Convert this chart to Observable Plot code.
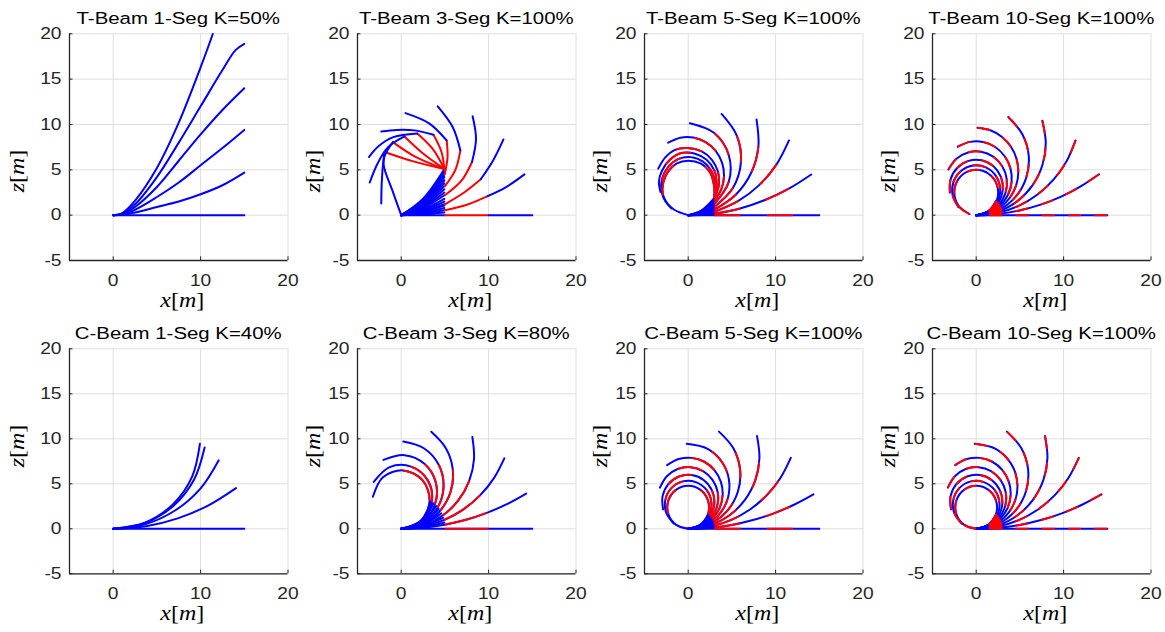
<!DOCTYPE html>
<html><head><meta charset="utf-8">
<script src="https://cdn.jsdelivr.net/npm/d3@7"></script>
<script src="https://cdn.jsdelivr.net/npm/@observablehq/plot@0.6"></script>
<style>
body{margin:0;background:#fff;}
#fig{position:relative;width:1165px;height:632px;overflow:hidden;background:#fff;}
#fig svg{position:absolute;}
</style></head><body><div id="fig"></div>
<script>
// ---------- tick values & titles ----------
const xTicks = [0, 10, 20];
const yTicks = [-5, 0, 5, 10, 15, 20];
const titles = ["T-Beam 1-Seg K=50%", "T-Beam 3-Seg K=100%", "T-Beam 5-Seg K=100%", "T-Beam 10-Seg K=100%",
                "C-Beam 1-Seg K=40%", "C-Beam 3-Seg K=80%", "C-Beam 5-Seg K=100%", "C-Beam 10-Seg K=100%"];

// ---------- T-Beam 1 segment ----------
const tBeam1 = [
 [[0,0],[15,0]],
 [[0,0],[1,0.04],[2.5,0.3],[5,0.9],[7.5,1.5],[10,2.3],[12.5,3.3],[15,4.7]],
 [[0,0],[1,0.08],[2.5,0.6],[5,2.0],[7.5,3.6],[10,5.5],[12.5,7.4],[15,9.4]],
 [[0,0],[1,0.12],[2.5,0.9],[5,3.1],[7.5,6.0],[10,8.9],[12.5,11.6],[15,14.0]],
 [[0,0],[1,0.16],[2.5,1.2],[5,4.2],[7.5,8.0],[10,12.0],[12.5,16.0],[14,18.2],[15,18.9]],
 [[0,0],[1,0.2],[2.5,1.6],[5,5.2],[7.5,10.2],[10,16.3],[11.4,20],[11.9,21.5]]
];

// ---------- T-Beam 3 segments ----------
const tBeam3Fan = [
 [[0,0],[2.5,0],[5,0]],[[0,0],[2.47,0.1],[4.94,0.3]],[[0,0],[2.47,0.19],[4.94,0.55]],[[0,0],[2.47,0.28],[4.94,0.8]],
 [[0,0],[2.47,0.37],[4.94,1.05]],[[0,0],[2.47,0.42],[4.94,1.2]],[[0,0],[2.47,0.53],[4.94,1.5]],[[0,0],[2.47,0.63],[4.94,1.8]],
 [[0,0],[2.47,0.77],[4.94,2.2]],[[0,0],[2.47,0.88],[4.94,2.5]],[[0,0],[2.47,1.0],[4.94,2.85]],[[0,0],[2.47,1.12],[4.94,3.2]],
 [[0,0],[2.47,1.23],[4.94,3.5]],[[0,0],[2.47,1.35],[4.94,3.85]],[[0,0],[2.47,1.47],[4.94,4.2]],[[0,0],[2.47,1.58],[4.94,4.5]],
 [[0,0],[2.47,1.68],[4.94,4.8]],[[0,0],[2.47,1.79],[4.94,5.1]]
];
const tBeam3Red = [
 [[5,0],[10,0]],
 [[5,0.55],[7.5,1.15],[9.9,2.1]],
 [[5,1.2],[7.2,2.5],[9.1,3.96]],
 [[5,2.2],[6.9,3.8],[8.1,5.86]],
 [[5,3.2],[6.2,5.0],[6.77,7.14]],
 [[4.98,4.5],[5.3,6.4],[5.2,8.24]],
 [[4.94,5.1],[4.6,7.0],[3.69,8.86]],
 [[4.94,5.1],[3.6,7.3],[1.84,9.0]],
 [[4.94,5.1],[2.5,6.8],[0.38,8.68]],
 [[4.94,5.1],[1.7,6.4],[-0.95,8.06]],
 [[4.94,5.1],[1.5,5.9],[-1.9,6.97]]
];
const tBeam3Blue = [
 [[10,0],[15,0]],
 [[9.9,2.1],[12,3.1],[14.1,4.5]],
 [[9.1,3.96],[10.5,6.0],[11.7,8.35]],
 [[8.1,5.86],[8.56,8.4],[8.17,10.9]],
 [[6.77,7.14],[5.9,9.7],[4.18,12.0]],
 [[5.2,8.24],[3.23,10.1],[0.49,11.25]],
 [[3.69,8.86],[1.5,9.35],[-0.5,9.4],[-2.28,9.23]],
 [[1.84,9.0],[-0.9,8.6],[-2.6,7.6],[-3.69,6.41]],
 [[0.38,8.68],[-1.5,7.5],[-2.7,5.7],[-3.6,3.6]],
 [[-0.95,8.06],[-1.9,6.5],[-2.2,4.0],[-2.28,1.28]],
 [[-1.9,6.97],[-2.0,5.5],[-1.0,2.7],[0,0]]
];

// ---------- T-Beam 5 segments ----------
const tBeam5Fan = [
 [[0,0],[1.5,0],[3,0]],[[0,0],[1.5,0.02],[3,0.08]],[[0,0],[1.5,0.04],[3,0.15]],[[0,0],[1.5,0.07],[3,0.25]],
 [[0,0],[1.5,0.1],[3,0.37]],[[0,0],[1.5,0.13],[3,0.48]],[[0,0],[1.5,0.16],[3,0.6]],[[0,0],[1.5,0.2],[3,0.75]],
 [[0,0],[1.5,0.24],[3,0.9]],[[0,0],[1.5,0.28],[3,1.05]],[[0,0],[1.5,0.34],[3,1.25]],[[0,0],[1.5,0.38],[3,1.4]],
 [[0,0],[1.5,0.43],[3,1.6]],[[0,0],[1.5,0.47],[3,1.75]],[[0,0],[1.5,0.51],[3,1.9]]
];
const tBeam5Body = [
 [[3,0],[15,0]],
 [[3,0.15],[5.94,0.74],[8.79,1.67],[11.52,2.92],[14.08,4.48]],
 [[3,0.37],[5.74,1.57],[8.15,3.34],[10.11,5.6],[11.53,8.24]],
 [[3,0.6],[5.47,2.28],[7.22,4.7],[8.03,7.56],[7.82,10.54]],
 [[3,0.9],[5.11,2.99],[6.03,5.82],[5.57,8.75],[3.82,11.16]],
 [[3,1.25],[4.65,3.7],[4.63,6.66],[2.95,9.08],[0.19,10.14]],
 [[3,1.6],[3.79,2.86],[4.1,4.32],[3.87,5.8],[3.14,7.1],[1.99,8.06],[0.59,8.56],[-0.9,8.54],[-2.29,7.99]],
 [[3,1.9],[3.51,3.3],[3.41,4.79],[2.71,6.11],[1.55,7.03],[-0.07,7.41],[-1.57,7.18],[-2.62,6.37],[-3.43,5.13]],
 [[3,1.9],[3.25,3.4],[3.0,4.9],[2.1,6.1],[0.7,6.8],[-0.8,6.85],[-2.1,6.1],[-3.0,4.9],[-3.35,3.7],[-3.17,2.56]],
 [[3,1.9],[3.1,3.4],[2.7,4.8],[1.7,5.9],[0.3,6.4],[-1.1,6.2],[-2.3,5.3],[-3.0,4.0],[-3.05,2.6],[-2.6,1.5],[-1.9,0.73]],
 [[3,1.9],[2.95,3.3],[2.5,4.7],[1.4,5.7],[0,6.0],[-1.3,5.7],[-2.3,4.8],[-2.85,3.6],[-2.9,2.3],[-2.4,1.3],[-1.6,0.6],[-0.8,0.25],[0,0]]
];

// ---------- T-Beam 10 segments ----------
const tBeam10 = [
 [[0,0],[15,0]],
 [[0,0],[2.5,0.13],[4.96,0.52],[7.38,1.16],[9.72,2.04],[11.95,3.17],[14.05,4.51]],
 [[0,0],[2.48,0.26],[4.86,1.03],[7.02,2.28],[8.87,3.94],[10.35,5.96],[11.37,8.24]],
 [[0,0],[2.46,0.39],[4.68,1.52],[6.44,3.28],[7.57,5.5],[7.96,7.96],[7.57,10.42]],
 [[0,0],[2.43,0.51],[4.45,1.96],[5.71,4.09],[6.01,6.56],[5.28,8.93],[3.67,10.82]],
 [[0,0],[1.48,0.23],[2.81,0.9],[3.87,1.95],[4.57,3.28],[4.82,4.75],[4.61,6.23],[3.96,7.57],[2.92,8.65],[1.61,9.36],[0.14,9.64]],
 [[0,0],[1.47,0.27],[2.74,1.06],[3.64,2.25],[4.05,3.68],[3.92,5.16],[3.26,6.5],[2.17,7.52],[0.77,8.07],[-0.71,8.08],[-2.11,7.55]],
 [[0,0],[1.46,0.31],[2.65,1.2],[3.37,2.51],[3.49,3.99],[2.98,5.39],[1.94,6.46],[0.56,7.0],[-0.93,6.91],[-2.25,6.23],[-3.18,5.03]],
 [[0,0],[1.44,0.36],[2.54,1.36],[3.04,2.75],[2.83,4.22],[1.95,5.42],[0.61,6.06],[-0.88,5.99],[-2.15,5.23],[-2.93,3.95],[-3.01,2.48]],
 [[0,0],[1.43,0.4],[2.44,1.48],[2.74,2.93],[2.25,4.33],[1.11,5.27],[-0.36,5.48],[-1.71,4.9],[-2.59,3.69],[-2.7,2.22],[-2.02,0.89]],
 [[0,0],[1.41,0.44],[2.34,1.59],[2.45,3.06],[1.71,4.34],[0.38,4.99],[-1.07,4.78],[-2.17,3.77],[-2.5,2.34],[-1.95,0.93],[-0.76,0.12]]
];

// ---------- C-Beam 1 segment ----------
const cBeam1 = [
 [[0,0],[15,0]],
 [[0,0],[3.75,0.29],[7.39,1.16],[10.85,2.58],[14.05,4.52]],
 [[0,0],[3.71,0.52],[7.12,2.06],[9.98,4.47],[12.06,7.6]],
 [[0,0],[3.68,0.66],[6.91,2.57],[9.26,5.48],[10.46,9.04]],
 [[0,0],[3.69,0.71],[6.85,2.74],[9.03,5.8],[9.92,9.44]]
];

// ---------- C-Beam 3 segments ----------
const cBeam3Fan = [
 [[0,0],[2.49,0.17],[4.94,0.69]],[[0,0],[2.47,0.31],[4.79,1.22]],[[0,0],[2.45,0.44],[4.59,1.71]],
 [[0,0],[2.41,0.58],[4.29,2.19]],[[0,0],[2.37,0.68],[4.01,2.53]],[[0,0],[2.32,0.79],[3.68,2.84]],
 [[0,0],[2.28,0.88],[3.38,3.06]]
];
const cBeam3 = [
 [[0,0],[15,0]],
 [[0,0],[2.5,0.11],[4.97,0.45],[7.41,1.0],[9.79,1.77],[12.09,2.74],[14.3,3.92]],
 [[0,0],[2.48,0.24],[4.87,0.96],[7.08,2.13],[9.02,3.71],[10.61,5.63],[11.8,7.83]],
 [[0,0],[2.46,0.37],[4.71,1.45],[6.53,3.15],[7.77,5.3],[8.33,7.73],[8.14,10.21]],
 [[0,0],[2.43,0.52],[4.43,1.98],[5.66,4.14],[5.9,6.61],[5.11,8.96],[3.44,10.78]],
 [[0,0],[2.39,0.63],[4.16,2.35],[4.85,4.73],[4.28,7.14],[2.59,8.95],[0.24,9.69]],
 [[0,0],[2.35,0.74],[3.85,2.69],[3.96,5.15],[2.65,7.23],[0.38,8.18],[-2.03,7.66]],
 [[0,0],[2.3,0.84],[3.5,2.97],[3.04,5.38],[1.13,6.91],[-1.32,6.85],[-3.14,5.21]],
 [[0,0],[2.26,0.92],[3.25,3.15],[2.41,5.43],[0.21,6.49],[-2.09,5.74],[-3.24,3.56]]
];

// ---------- C-Beam 5 / 10 segments ----------
const cBeamFan = [
 [[0,0],[1.5,0.028],[3.0,0.11]],[[0,0],[1.5,0.056],[2.99,0.22]],[[0,0],[1.49,0.11],[2.96,0.45]],
 [[0,0],[1.49,0.16],[2.91,0.63]],[[0,0],[1.48,0.22],[2.82,0.87]],[[0,0],[1.47,0.26],[2.76,1.0]],
 [[0,0],[1.46,0.3],[2.68,1.15]],[[0,0],[1.45,0.35],[2.58,1.31]],[[0,0],[1.43,0.39],[2.48,1.44]],
 [[0,0],[1.42,0.43],[2.35,1.57]],[[0,0],[1.41,0.45],[2.3,1.62]]
];
const cBeamArcs = [
 [[0,0],[15,0]],
 [[0,0],[2.5,0.11],[4.97,0.43],[7.42,0.97],[9.8,1.72],[12.11,2.67],[14.33,3.82]],
 [[0,0],[2.48,0.25],[4.87,0.97],[7.07,2.15],[9.0,3.74],[10.57,5.68],[11.74,7.88]],
 [[0,0],[2.46,0.38],[4.69,1.48],[6.49,3.21],[7.68,5.4],[8.15,7.84],[7.87,10.32]],
 [[0,0],[2.43,0.52],[4.44,1.97],[5.68,4.12],[5.94,6.59],[5.17,8.95],[3.52,10.8]],
 [[0,0],[2.39,0.65],[4.12,2.41],[4.72,4.81],[4.03,7.17],[2.23,8.88],[-0.17,9.44]],
 [[0,0],[1.46,0.28],[2.72,1.09],[3.59,2.3],[3.94,3.75],[3.74,5.22],[3.0,6.52],[1.84,7.45],[0.41,7.88],[-1.08,7.75],[-2.41,7.08]],
 [[0,0],[1.45,0.32],[2.63,1.23],[3.32,2.55],[3.38,4.04],[2.8,5.41],[1.7,6.41],[0.28,6.85],[-1.2,6.64],[-2.44,5.84],[-3.24,4.57]],
 [[0,0],[1.44,0.37],[2.52,1.38],[2.99,2.79],[2.73,4.25],[1.8,5.4],[0.42,5.97],[-1.05,5.81],[-2.27,4.96],[-2.93,3.63],[-2.88,2.15]],
 [[0,0],[1.42,0.41],[2.41,1.52],[2.65,2.97],[2.08,4.34],[0.87,5.19],[-0.61,5.27],[-1.9,4.55],[-2.61,3.24],[-2.52,1.79],[-1.65,0.57]],
 [[0,0],[1.4,0.46],[2.27,1.65],[2.27,3.13],[1.41,4.32],[0.01,4.78],[-1.4,4.33],[-2.27,3.14],[-2.28,1.66],[-1.41,0.46],[-0.02,0]]
];

// ---------- drawing ----------
const BLUE = "#0000ff", RED = "#ff0000";
const K = 1.2;                       // horizontal width of the glyphs
const colLeft = [69.3, 356.7, 644, 932];
const zLabelOff = [51, 43, 43, 43];
const plotW = 218.5;
const rows = [
 {top: 0, plotTop: 33.3, plotH: 226.7, H: 316, zc: 171},
 {top: 316, plotTop: 32.3, plotH: 225, H: 316, zc: 130}
];

function rowsOf(curves) {
  return curves.flatMap((pts, i) => pts.map(([x, z]) => ({id: i, x, z})));
}
function lineMark(curves, stroke, extra = {}) {
  return Plot.line(rowsOf(curves), {x: "x", y: "z", z: "id", stroke, strokeWidth: 2,
    curve: "catmull-rom", clip: true, ...extra});
}
let ovCount = 0;
function twoColour(curves, nSeg, offset, lengths) {
  const label = "ov" + (ovCount++);
  lengths[label] = nSeg;
  return [lineMark(curves, BLUE),
          lineMark(curves, RED, {strokeDasharray: "1 1", strokeDashoffset: offset,
                                 strokeLinecap: "butt", ariaDescription: label})];
}

function panel(idx, build) {
  const row = Math.floor(idx / 4), col = idx % 4, r = rows[row];
  const lengths = {};
  const mL = 60, mR = 8;
  const W = mL + plotW + mR;
  const marks = [
    Plot.ruleX(xTicks, {stroke: "#dedede", strokeWidth: 1}),
    Plot.ruleY(yTicks, {stroke: "#dedede", strokeWidth: 1}),
    ...build(lengths),
    Plot.ruleX([-5], {stroke: "#262626", strokeWidth: 1.3}),
    Plot.ruleY([-5], {stroke: "#262626", strokeWidth: 1.3}),
    Plot.ruleX(xTicks, {y1: -5, y2: -4.6, stroke: "#262626"}),
    Plot.ruleY(yTicks, {x1: -5, x2: -4.6, stroke: "#262626"})
  ];
  const svg = Plot.plot({
    width: W, height: r.H,
    marginLeft: mL, marginRight: mR, marginTop: r.plotTop, marginBottom: r.H - r.plotTop - r.plotH,
    x: {domain: [-5, 20], ticks: xTicks, tickSize: 0, tickPadding: 14, label: null, tickFormat: d => String(d)},
    y: {domain: [-5, 20], ticks: yTicks, tickSize: 0, tickPadding: 8, label: null, tickFormat: d => String(d)},
    style: {fontFamily: "'Liberation Sans', Arial, sans-serif", fontSize: "16px", color: "#262626",
            background: "transparent", overflow: "visible"},
    marks
  });
  const s = d3.select(svg);
  for (const [label, n] of Object.entries(lengths)) {
    s.selectAll(`[aria-description="${label}"] path`).attr("pathLength", n);
  }
  // widen tick-label glyphs about their anchor
  s.selectAll("text").each(function () {
    const t = this.getAttribute("transform") || "";
    const x = parseFloat(this.getAttribute("x")) || 0;
    this.setAttribute("transform", `${t} translate(${x},0) scale(${K},1) translate(${-x},0)`);
  });
  const cx = mL + plotW / 2;
  s.append("text").attr("transform", `translate(${cx},${r.plotTop - 9}) scale(${K},1)`)
    .attr("text-anchor", "middle").attr("fill", "#000")
    .attr("font-family", "'Liberation Sans', Arial, sans-serif").attr("font-size", 17)
    .text(titles[idx]);
  const xl = s.append("text").attr("transform", `translate(${cx + 4},${r.plotTop + r.plotH + 47}) scale(${K},1)`)
    .attr("text-anchor", "middle").attr("fill", "#000")
    .attr("font-family", "'Liberation Serif', 'DejaVu Serif', serif").attr("font-size", 20);
  xl.append("tspan").attr("font-style", "italic").text("x");
  xl.append("tspan").text("[");
  xl.append("tspan").attr("font-style", "italic").text("m");
  xl.append("tspan").text("]");
  const zl = s.append("text").attr("transform", `translate(${mL - zLabelOff[col] + 6},${r.zc}) rotate(-90) scale(${K},1)`)
    .attr("text-anchor", "middle").attr("fill", "#000")
    .attr("font-family", "'Liberation Serif', 'DejaVu Serif', serif").attr("font-size", 20);
  zl.append("tspan").attr("font-style", "italic").text("z");
  zl.append("tspan").text("[");
  zl.append("tspan").attr("font-style", "italic").text("m");
  zl.append("tspan").text("]");
  svg.style.left = (colLeft[col] - mL) + "px";
  svg.style.top = r.top + "px";
  document.getElementById("fig").appendChild(svg);
}

panel(0, () => [lineMark(tBeam1, BLUE)]);
panel(1, () => [lineMark(tBeam3Fan, BLUE), lineMark(tBeam3Red, RED), lineMark(tBeam3Blue, BLUE)]);
panel(2, (L) => [lineMark(tBeam5Fan, BLUE), ...twoColour(tBeam5Body, 4, 0, L)]);
panel(3, (L) => [...twoColour(cBeamFan, 2, 1, L), ...twoColour(tBeam10, 10, 1, L)]);
panel(4, () => [lineMark(cBeam1, BLUE)]);
panel(5, (L) => [lineMark(cBeam3Fan, BLUE), ...twoColour(cBeam3, 3, 1, L)]);
panel(6, (L) => [lineMark(cBeamFan, BLUE), ...twoColour(cBeamArcs, 5, 1, L)]);
panel(7, (L) => [...twoColour(cBeamFan, 2, 1, L), ...twoColour(cBeamArcs, 10, 1, L)]);
</script></body></html>
